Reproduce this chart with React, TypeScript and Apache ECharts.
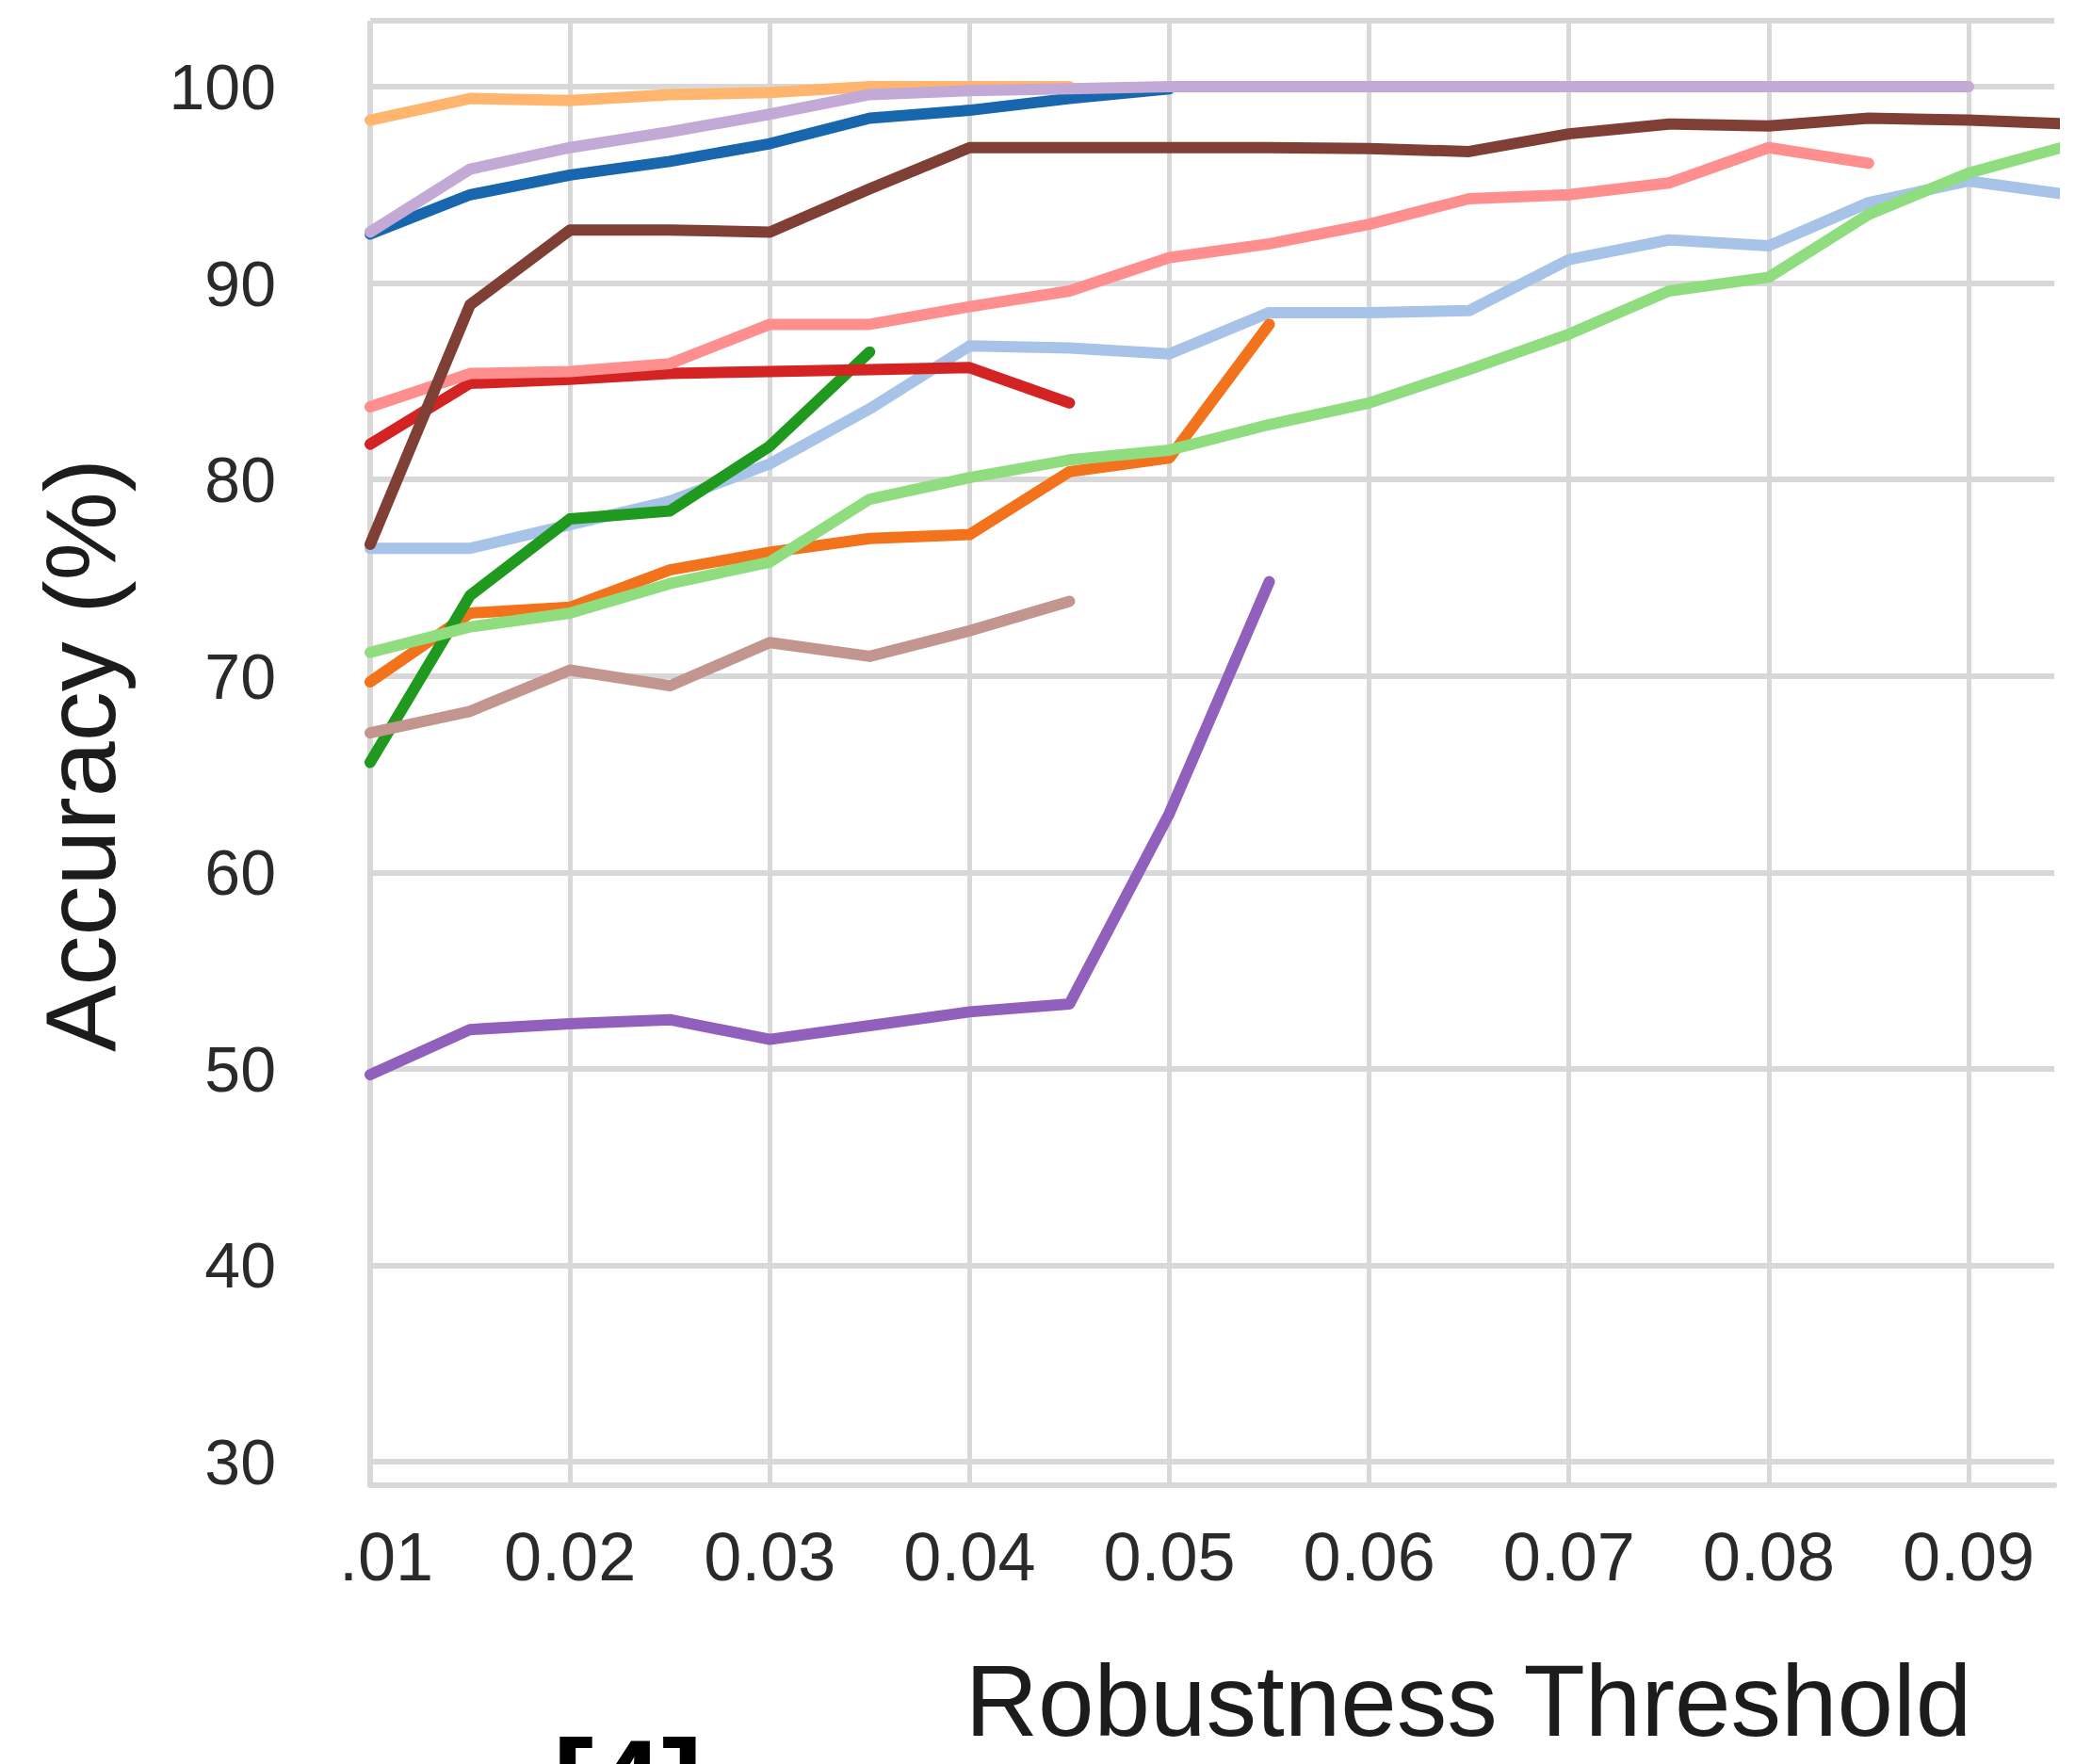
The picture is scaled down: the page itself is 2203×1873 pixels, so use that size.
import React, { useEffect, useRef } from "react";
import * as echarts from "echarts";

// Robustness thresholds (x values, step 0.005)
const thresholds = [0.01, 0.015, 0.02, 0.025, 0.03, 0.035, 0.04, 0.045, 0.05, 0.055, 0.06, 0.065, 0.07, 0.075, 0.08, 0.085, 0.09, 0.095];

const xTickValues = [0.01, 0.02, 0.03, 0.04, 0.05, 0.06, 0.07, 0.08, 0.09];
const yTickValues = [30, 40, 50, 60, 70, 80, 90, 100];

// Series values (accuracy %)
const blueVals = [92.5, 94.5, 95.5, 96.2, 97.1, 98.4, 98.8, 99.4, 99.9];
const lightBlueVals = [76.5, 76.5, 77.7, 78.9, 80.8, 83.6, 86.8, 86.7, 86.4, 88.5, 88.5, 88.6, 91.2, 92.2, 91.9, 94.1, 95.2, 94.5];
const orangeVals = [69.7, 73.2, 73.5, 75.4, 76.3, 77.0, 77.2, 80.4, 81.1, 87.9];
const lightOrangeVals = [98.3, 99.4, 99.3, 99.6, 99.7, 100, 100, 100];
const greenVals = [65.6, 74.1, 78.0, 78.4, 81.7, 86.5];
const lightGreenVals = [71.2, 72.5, 73.2, 74.7, 75.8, 79.0, 80.1, 81.0, 81.5, 82.8, 83.9, 85.6, 87.4, 89.6, 90.3, 93.5, 95.6, 97.0];
const redVals = [81.8, 84.9, 85.1, 85.4, 85.5, 85.6, 85.7, 83.9];
const pinkVals = [83.7, 85.4, 85.5, 85.9, 87.9, 87.9, 88.8, 89.6, 91.3, 92.0, 93.0, 94.3, 94.5, 95.1, 96.9, 96.1];
const purpleVals = [49.7, 52.0, 52.3, 52.5, 51.5, 52.2, 52.9, 53.3, 63.0, 74.8];
const lilacVals = [92.6, 95.8, 96.9, 97.7, 98.6, 99.6, 99.8, 99.9, 100, 100, 100, 100, 100, 100, 100, 100, 100];
const brownVals = [76.7, 88.9, 92.7, 92.7, 92.6, 94.8, 96.9, 96.9, 96.9, 96.9, 96.85, 96.7, 97.6, 98.1, 98.0, 98.4, 98.3, 98.1];
const tanVals = [67.1, 68.2, 70.3, 69.5, 71.7, 71.0, 72.3, 73.8];

const seriesDefs = [
  { name: "s1", color: "#1867ae", values: blueVals },
  { name: "s2", color: "#a7c3e7", values: lightBlueVals },
  { name: "s3", color: "#f2731b", values: orangeVals },
  { name: "s4", color: "#ffb56e", values: lightOrangeVals },
  { name: "s5", color: "#1f9a1f", values: greenVals },
  { name: "s6", color: "#90dd80", values: lightGreenVals },
  { name: "s7", color: "#d42323", values: redVals },
  { name: "s8", color: "#ff8f8e", values: pinkVals },
  { name: "s9", color: "#9160bd", values: purpleVals },
  { name: "s10", color: "#c3a9d6", values: lilacVals },
  { name: "s11", color: "#803f35", values: brownVals },
  { name: "s12", color: "#c2968e", values: tanVals },
];

const FONT = "'Liberation Sans', Arial, Helvetica, sans-serif";
const GRID_COLOR = "#d8d8d8";

export default function App() {
  const ref = useRef<HTMLDivElement>(null);

  useEffect(() => {
    if (!ref.current) return;
    const chart = echarts.init(ref.current, null, { renderer: "svg" });

    const yMin = 28.8;
    const yMax = 103.36;
    const xMin = 0.01;
    const xMax = 0.09429;

    const option: any = {
      animation: false,
      backgroundColor: "#ffffff",
      grid: { left: 393, top: 22, right: 22, bottom: 296, containLabel: false },
      xAxis: {
        type: "value",
        min: xMin,
        max: xMax,
        axisLine: { show: true, lineStyle: { color: GRID_COLOR, width: 6 } },
        axisTick: { show: false, customValues: xTickValues },
        splitLine: { show: true, lineStyle: { color: GRID_COLOR, width: 5 } },
        axisLabel: {
          customValues: xTickValues,
          margin: 40,
          fontSize: 72,
          fontFamily: FONT,
          color: "#2a2a2a",
          formatter: (v: number) => (Math.abs(v - 0.01) < 1e-9 ? "{first|.01}" : v.toFixed(2)),
          rich: {
            first: {
              fontSize: 72,
              fontFamily: FONT,
              color: "#2a2a2a",
              padding: [0, 0, 0, 34],
            },
          },
        },
      },
      yAxis: {
        type: "value",
        min: yMin,
        max: yMax,
        axisLine: { show: false },
        axisTick: { show: false, customValues: [yMin, ...yTickValues, yMax] },
        splitLine: { show: true, lineStyle: { color: GRID_COLOR, width: 6 } },
        axisLabel: {
          customValues: yTickValues,
          margin: 100,
          fontSize: 68,
          fontFamily: FONT,
          color: "#2a2a2a",
        },
      },
      graphic: [
        {
          type: "line",
          shape: { x1: 393, y1: 22, x2: 393, y2: 1577 },
          style: { stroke: GRID_COLOR, lineWidth: 6 },
          z: 1,
        },
        {
          type: "text",
          x: 85,
          y: 802,
          rotation: Math.PI / 2,
          style: {
            text: "Accuracy (%)",
            fontSize: 106,
            fontFamily: FONT,
            fill: "#1c1c1c",
            textAlign: "center",
            textVerticalAlign: "middle",
          },
        },
        {
          type: "text",
          x: 1559,
          y: 1806,
          style: {
            text: "Robustness Threshold",
            fontSize: 107,
            fontFamily: FONT,
            fill: "#1c1c1c",
            textAlign: "center",
            textVerticalAlign: "middle",
          },
        },
        {
          type: "text",
          x: 587,
          y: 1893,
          style: {
            text: "[4]",
            fontSize: 130,
            fontWeight: "bold",
            fontFamily: FONT,
            fill: "#000000",
            textAlign: "left",
            textVerticalAlign: "middle",
          },
        },
      ],
      series: seriesDefs.map((s) => ({
        name: s.name,
        type: "line",
        data: s.values.map((v, i) => [thresholds[i], v]),
        showSymbol: false,
        symbol: "none",
        clip: true,
        lineStyle: { color: s.color, width: 12, cap: "round", join: "round" },
        emphasis: { disabled: true },
      })),
    };

    chart.setOption(option);
    return () => chart.dispose();
  }, []);

  return (
    <div
      ref={ref}
      style={{ position: "absolute", left: 0, top: 0, width: 2203, height: 1873 }}
    />
  );
}
